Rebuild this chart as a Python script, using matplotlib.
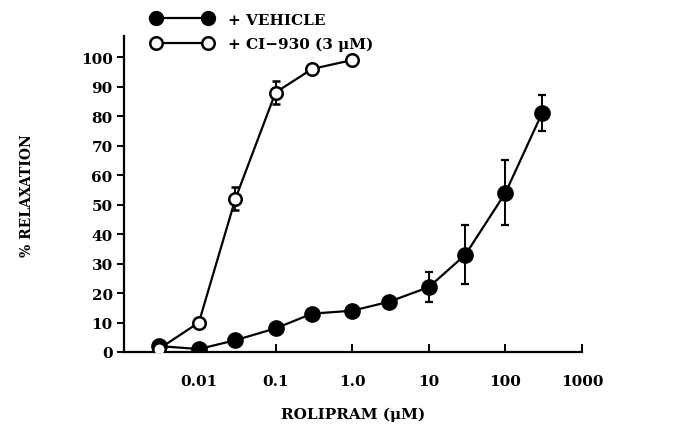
# rolipram concentration-response, vehicle vs CI-930

import numpy as np
import matplotlib.pyplot as plt
from matplotlib.lines import Line2D

# rolipram concentrations (uM)
veh_conc = [0.003, 0.01, 0.03, 0.1, 0.3, 1.0, 3.0, 10, 30, 100, 300]
veh_relax = [2, 1, 4, 8, 13, 14, 17, 22, 33, 54, 81]
veh_err = [0, 0, 0, 0, 0, 0, 0, 5, 10, 11, 6]

ci_conc = [0.003, 0.01, 0.03, 0.1, 0.3, 1.0]
ci_relax = [1, 10, 52, 88, 96, 99]
ci_err = [0, 0, 4, 4, 0, 0]

xticks = [0.01, 0.1, 1.0, 10, 100, 1000]
xticklabels = ["0.01", "0.1", "1.0", "10", "100", "1000"]
yticks = list(range(0, 101, 10))

plt.rcParams['font.family'] = ['DejaVu Serif']
plt.rcParams['font.weight'] = 'bold'

fig = plt.figure(figsize=(6.73, 4.31), dpi=100)
ax = fig.add_axes([0.184, 0.181, 0.681, 0.732])

# vehicle
ax.errorbar(veh_conc, veh_relax, yerr=veh_err, fmt='o-', color='black',
            mfc='black', mec='black', ms=11, lw=1.6, elinewidth=1.4,
            capsize=3, capthick=1.6, zorder=3)
# CI-930
ax.errorbar(ci_conc, ci_relax, yerr=ci_err, fmt='o-', color='black',
            mfc='white', mec='black', mew=1.8, ms=9, lw=1.6, elinewidth=1.4,
            capsize=3, capthick=1.6, zorder=4)

ax.set_xscale('log')
ax.set_xlim(0.00105, 1000)
ax.set_ylim(0, 107)
ax.set_xticks(xticks)
ax.set_xticklabels(xticklabels)
ax.minorticks_off()
ax.set_yticks(yticks)

for s in ['top', 'right']:
    ax.spines[s].set_visible(False)
for s in ['left', 'bottom']:
    ax.spines[s].set_linewidth(1.6)

ax.tick_params(axis='x', direction='in', length=6, width=1.4, pad=16, labelsize=11)
ax.tick_params(axis='y', direction='out', length=5, width=1.4, pad=3, labelsize=11)
for lab in ax.get_xticklabels() + ax.get_yticklabels():
    lab.set_fontweight('bold')

ax.set_xlabel("ROLIPRAM (\u03bcM)", fontsize=11, fontweight='bold', labelpad=13)
ax.set_ylabel("% RELAXATION", fontsize=10, fontweight='bold', labelpad=34)

# legend at the top
h1 = Line2D([], [], color='black', marker='o', mfc='black', mec='black', ms=10, lw=1.6)
h2 = Line2D([], [], color='black', marker='o', mfc='white', mec='black', mew=1.8, ms=9, lw=1.6)
fig.legend([h1, h2], ["+ VEHICLE", "+ CI\u2212930 (3 \u03bcM)"], numpoints=2,
           loc='upper left', bbox_to_anchor=(0.205, 1.0), frameon=False,
           handlelength=4.0, handletextpad=1.0, labelspacing=0.65,
           prop={'weight': 'bold', 'size': 11})

fig.savefig("out.png", dpi=100)
